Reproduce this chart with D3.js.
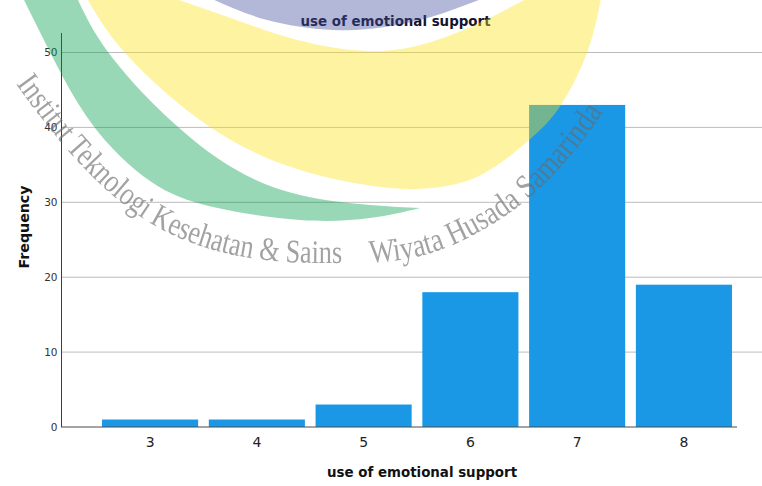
<!DOCTYPE html>
<html><head><meta charset="utf-8">
<script src="https://cdn.jsdelivr.net/npm/d3@7/dist/d3.min.js"></script>
<style>html,body{margin:0;padding:0;background:#fff}svg{display:block}</style></head>
<body><svg id="c" width="762" height="486"></svg>
<script>
const categories=["3","4","5","6","7","8"];
const frequency=[1,1,3,18,43,19];
const yTicks=[0,10,20,30,40,50];
const title="use of emotional support";
const xLabel="use of emotional support";
const yLabel="Frequency";
const watermarkLeft="Institut Teknologi Kesehatan & Sains";
const watermarkRight="Wiyata Husada Samarinda";
const greenOuter=[[23,-2],[50,52],[92,124],[150,181],[213,207],[300,220],[370,218],[420,208]];
const greenInner=[[420,208],[370,205],[300,195],[233,168],[167,117],[108,52],[77,-2]];
const yellowLower=[[87,-2],[127,55],[210,127],[300,170],[381,187],[431,188],[481,175],[529,140],[561,105],[588,50],[601,-2]];
const yellowUpper=[[528,-2],[481,22],[431,42],[381,51],[330,47],[280,35],[228,17],[173,-2]];
const purpleEdge=[[210,-2],[267,20],[333,30],[385,27],[431,17],[484,-2]];
const leftBase=[[16,84],[72,155],[152,224],[250,258],[342,263]];
const rightBase=[[370,263],[440,250],[520,205],[575,150],[603,112]];

const svg=d3.select("#c");
const x=d3.scaleBand().domain(categories).range([96.7,737.3]).paddingInner(0.1).paddingOuter(0.05);
const y=d3.scaleLinear().domain([0,50]).range([427,52.5]);
const font='"DejaVu Sans",sans-serif';

svg.append("g").selectAll("line").data(yTicks.slice(1)).join("line")
 .attr("x1",61).attr("x2",762).attr("y1",d=>y(d)).attr("y2",d=>y(d))
 .attr("stroke","#bcbcbc").attr("stroke-width",1);

svg.append("g").selectAll("rect").data(frequency).join("rect")
 .attr("x",(d,i)=>x(categories[i])).attr("width",x.bandwidth())
 .attr("y",d=>y(d)).attr("height",d=>y(0)-y(d)).attr("fill","#1a98e6");

const yAxis=d3.axisLeft(y).tickValues(yTicks).tickSize(0).tickPadding(4);
const ga=svg.append("g").attr("transform","translate(61.5,0)").call(yAxis);
ga.select(".domain").attr("d",`M0,33V${y(0)}`).attr("stroke","#3c3c3c").attr("stroke-width",1);
ga.selectAll("text").attr("font-family",font).attr("font-size",10.5).attr("fill","#333");

const xAxis=d3.axisBottom(x).tickSize(0).tickPadding(10);
const gx=svg.append("g").attr("transform",`translate(0,${y(0)})`).call(xAxis);
gx.select(".domain").attr("d","M61,0H737").attr("stroke","#4a4a4a").attr("stroke-width",1.2);
gx.selectAll("text").attr("font-family",font).attr("font-size",14).attr("fill","#222");

const lab=(t,a,b,s)=>svg.append("text").text(t).attr("text-anchor","middle")
 .attr("font-family",font).attr("font-weight","bold").attr("font-size",s).attr("fill","#111")
 .attr("transform",`translate(${a},${b})`);
lab(title,395.5,26,13.4).attr("fill","#14142e");
lab(xLabel,422,477,13.4);
lab(yLabel,0,0,14.2).attr("transform","translate(29,227) rotate(-90)");

const w=svg.append("g").attr("style","filter:blur(0.6px)");
const cat=d3.line().curve(d3.curveNatural);
const closed=(a,b)=>cat(a)+"L"+cat(b).slice(1)+"Z";
w.append("path").attr("d",closed(greenOuter,greenInner)).attr("fill","#009d48").attr("opacity",0.4);
w.append("path").attr("d",closed(yellowLower,yellowUpper)).attr("fill","#fce111").attr("opacity",0.4);
w.append("path").attr("d",cat(purpleEdge)+"Z").attr("fill","#434e9d").attr("opacity",0.4);
const defs=svg.append("defs");
defs.append("path").attr("id","wl").attr("d",cat(leftBase));
defs.append("path").attr("id","wr").attr("d",cat(rightBase));
const wt=(id,t,len)=>w.append("text").attr("font-family",'"Liberation Serif",serif').attr("font-size",33).attr("fill","#6a6a6a").attr("opacity",0.62)
 .append("textPath").attr("href","#"+id).attr("textLength",len).attr("lengthAdjust","spacingAndGlyphs").text(t);
wt("wl",watermarkLeft,d3.select("#wl").node().getTotalLength());
wt("wr",watermarkRight,d3.select("#wr").node().getTotalLength());
</script></body></html>
